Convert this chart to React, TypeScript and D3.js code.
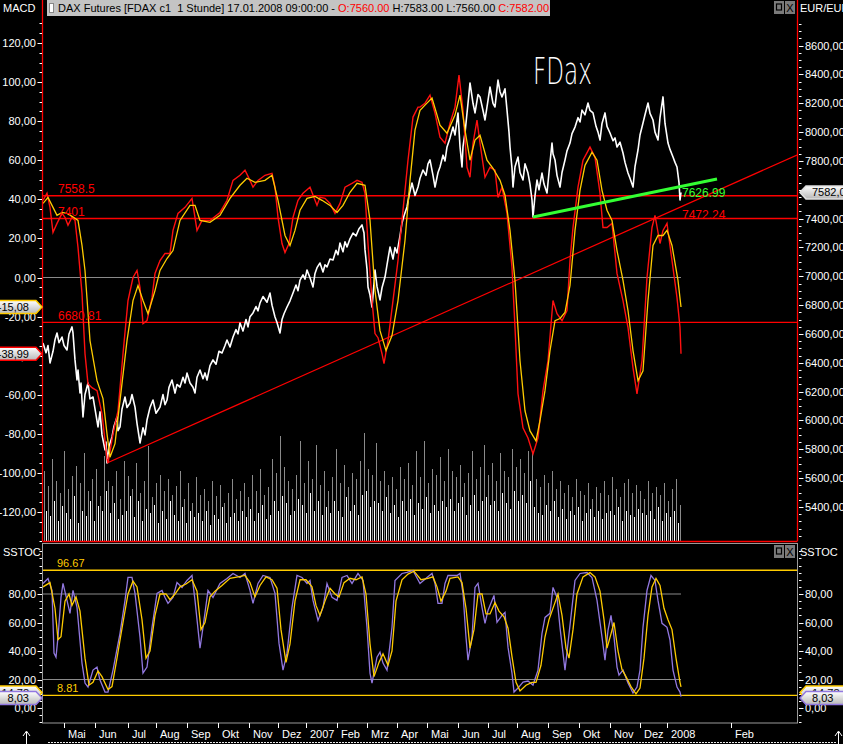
import React from 'react';
import * as d3 from 'd3';

const W = 843;
const H = 744;

// x unit: trading-hour bar index (scaled), starting mid-April 2006
const MONTH_LABELS = ['Mai','Jun','Jul','Aug','Sep','Okt','Nov','Dez','2007','Feb','Mrz','Apr','Mai','Jun','Jul','Aug','Sep','Okt','Nov','Dez','2008','Feb'];
const MONTH_BARS = [21,52,85,113,144,175,206,235,263,294,324,354,384,415,445,474,505,536,567,597,624,688];

const PRICE: [number, number][] = [
  [0,6538],[3,6470],[5,6520],[7,6399],[10,6480],[12,6560],[14,6607],[16,6540],[19,6579],[21,6520],[24,6489],[26,6600],[29,6649],[30,6607],[32,6420],[34,6281],[35,6350],[37,6191],[38,6260],[40,6024],[42,6180],[45,6260],[47,6150],[50,6163],[52,6080],[55,5955],[57,6060],[59,5900],[62,5796],[63,5850],[64,5705],[66,5820],[69,5886],[71,5960],[74,6024],[75,5930],[77,5955],[79,6080],[82,6163],[84,6090],[87,6121],[89,6180],[92,6093],[94,5980],[97,5844],[100,5950],[102,5900],[104,6003],[107,6090],[110,6142],[113,6050],[117,6093],[120,6180],[122,6110],[124,6142],[126,6230],[129,6281],[132,6190],[134,6250],[137,6232],[140,6300],[142,6260],[144,6329],[147,6260],[150,6230],[152,6191],[154,6300],[157,6350],[160,6290],[162,6330],[164,6281],[167,6380],[170,6420],[173,6390],[176,6480],[179,6468],[182,6520],[184,6558],[187,6510],[190,6579],[193,6630],[195,6600],[197,6676],[200,6620],[203,6700],[205,6649],[207,6720],[210,6746],[213,6790],[215,6760],[217,6815],[220,6860],[224,6820],[227,6884],[229,6800],[232,6718],[234,6680],[237,6607],[239,6700],[241,6740],[244,6787],[247,6830],[250,6884],[253,6940],[255,6900],[257,6974],[260,7010],[262,6980],[264,7044],[267,6990],[270,6926],[272,7020],[274,7060],[277,7092],[280,7030],[282,7080],[284,7065],[287,7120],[290,7113],[293,7180],[295,7150],[297,7231],[300,7170],[302,7240],[304,7203],[307,7260],[310,7300],[313,7280],[316,7330],[319,7356],[321,7300],[322,7183],[324,7050],[325,6926],[327,6870],[329,6787],[331,6950],[332,7044],[334,6930],[337,6836],[339,6920],[342,6995],[344,7080],[347,7203],[350,7120],[352,7200],[354,7162],[357,7280],[359,7370],[361,7420],[364,7481],[366,7560],[369,7647],[372,7560],[375,7619],[377,7680],[380,7737],[383,7700],[385,7780],[387,7807],[390,7700],[392,7619],[395,7720],[397,7758],[400,7840],[402,7800],[404,7897],[407,7960],[410,8035],[412,7980],[415,8133],[417,7900],[419,7758],[420,7900],[422,7994],[425,8200],[427,8341],[430,8200],[432,8133],[435,8260],[437,8244],[440,8150],[442,8084],[445,8220],[447,8313],[450,8200],[452,8174],[454,8300],[455,8361],[457,8280],[459,8244],[462,8300],[464,8153],[466,8000],[467,7897],[469,7750],[470,7619],[472,7760],[475,7827],[477,7720],[480,7668],[482,7780],[485,7716],[487,7640],[489,7529],[490,7411],[492,7560],[494,7668],[496,7600],[499,7716],[501,7640],[504,7578],[506,7720],[509,7924],[510,7850],[512,7807],[514,7700],[517,7619],[519,7720],[522,7807],[524,7870],[527,7924],[529,7990],[532,8035],[535,8100],[537,8070],[539,8153],[542,8120],[545,8202],[547,8150],[550,8133],[553,8040],[555,8000],[557,7945],[559,8060],[562,8133],[564,8040],[567,7994],[570,7940],[572,7960],[574,7897],[577,7930],[580,7855],[582,7790],[585,7716],[587,7680],[590,7619],[592,7760],[595,7876],[597,7980],[600,8063],[602,8120],[605,8202],[607,8130],[610,8084],[612,8000],[615,7945],[617,8100],[620,8244],[622,8060],[625,7924],[627,7880],[630,7827],[632,7790],[634,7758],[636,7650],[637,7529],[638,7582]
];

const MACD_LINE: [number, number][] = [
  [0,39.5],[4,43.1],[7,35.9],[10,23.1],[14,27.7],[19,32.8],[22,30.8],[25,26.7],[29,30.8],[32,29.2],[35,15.4],[39,-8.2],[42,-39],[45,-54.4],[49,-56.4],[54,-57.9],[59,-69.7],[64,-93],[65,-95],[70,-80],[75,-68.2],[80,-39],[85,-11.8],[90,0],[94,3.6],[97,-5.1],[100,-23.6],[104,-22.1],[109,-10.3],[112,2.1],[117,8.7],[122,12.3],[127,12.3],[130,24.1],[135,32.8],[142,35.9],[149,40.5],[154,24.1],[159,29.2],[167,29.2],[177,33.3],[184,39.5],[190,49.7],[197,52.3],[202,54.9],[207,49.7],[210,46.2],[215,49.7],[222,52.3],[229,53.3],[232,46.2],[235,30.8],[239,17.4],[242,12.8],[246,17.4],[250,30.8],[255,39.5],[260,43.1],[267,46.2],[274,36.9],[277,41],[282,40.5],[287,37.9],[292,32.8],[297,37.9],[302,46.2],[309,48.2],[314,49.7],[319,48.7],[322,43.1],[325,17.4],[329,-11.8],[332,-28.7],[335,-30.8],[339,-39],[341,-44.1],[345,-32.3],[350,-11.8],[355,8.7],[360,34.4],[365,60],[370,82.1],[375,87.2],[377,87.2],[382,89.2],[387,93.3],[392,84.1],[397,71.8],[402,68.7],[407,79],[412,87.2],[416,103.6],[420,85.6],[424,56.4],[427,51.3],[430,68.7],[434,80.5],[437,68.7],[442,51.3],[447,56.4],[452,54.9],[455,41],[459,46.2],[464,32.8],[469,5.1],[472,-25.6],[475,-59.5],[480,-76.9],[485,-82.1],[490,-90.3],[495,-82.1],[500,-57.9],[505,-42.6],[510,-11.8],[514,-18.5],[519,-22.1],[524,-16.9],[527,8.7],[530,25.6],[535,46.2],[540,60],[547,66.7],[552,61.5],[557,43.1],[560,25.6],[564,25.6],[569,27.7],[574,2.1],[580,-11.8],[585,-25.6],[590,-46.2],[594,-59.5],[599,-42.6],[604,0],[609,25.6],[612,31.8],[617,17.4],[620,24.1],[624,27.7],[629,8.7],[634,-10.3],[637,-25.6],[638,-38.99]
];

const MACD_SIGNAL: [number, number][] = [
  [0,37.9],[5,41],[9,36.9],[14,31.8],[19,33.3],[24,32.8],[29,31.3],[35,29.2],[39,16.4],[42,3.6],[47,-32.3],[54,-52.8],[60,-62],[64,-80],[67,-92],[72,-85],[77,-63],[84,-32.3],[90,-11.8],[95,-4.1],[100,-11.8],[105,-18.5],[112,-6.7],[117,3.6],[124,9.7],[130,13.8],[137,29.2],[147,36.9],[152,36.9],[157,29.2],[167,28.2],[177,31.8],[187,40.5],[197,47.2],[204,50.8],[212,48.7],[222,49.7],[229,52.3],[235,39.5],[242,21.5],[247,16.4],[252,24.1],[257,34.4],[264,40.5],[272,41.5],[279,39.5],[287,36.9],[294,33.3],[300,36.9],[307,43.6],[314,48.2],[322,47.2],[327,29.2],[332,-6.7],[337,-27.2],[343,-37.4],[349,-29.7],[355,-11.8],[362,19],[367,49.7],[372,75.4],[377,85.6],[382,88.2],[389,91.8],[397,77.9],[404,73.8],[412,83.1],[417,93.3],[422,75.4],[427,60],[432,70.3],[437,72.8],[444,60],[450,55.9],[457,49.7],[462,42.1],[467,24.1],[472,-1.5],[477,-42.6],[482,-68.2],[487,-78.5],[493,-83.6],[497,-73.3],[502,-57.9],[507,-37.4],[512,-22.1],[517,-21],[522,-17.9],[527,-4.1],[532,24.1],[537,44.6],[542,57.4],[549,64.1],[554,60],[559,44.6],[564,34.4],[569,29.2],[574,13.8],[580,-1.5],[585,-16.9],[590,-37.4],[595,-52.8],[600,-47.7],[605,-11.8],[610,16.4],[615,21.5],[620,21.5],[624,24.1],[629,16.4],[635,-1.5],[638,-15.08]
];

const STOCH_K: [number, number][] = [
  [0,87.4],[5,90.9],[9,82.5],[11,38.5],[13,35.7],[15,49.7],[18,77.6],[20,87.4],[24,75.5],[27,66.4],[30,82.5],[34,70.6],[39,31.5],[42,17.5],[45,14.7],[50,26.6],[54,28.7],[57,19.6],[62,11.2],[65,11.2],[70,26.6],[77,52.4],[82,75.5],[85,91.6],[89,91.6],[92,80.4],[97,49.7],[100,24.5],[104,28.7],[109,56.6],[114,80.4],[119,82.5],[122,77.6],[125,73.4],[130,77.6],[134,88.1],[139,84.6],[144,89.5],[149,93],[152,75.5],[157,42],[160,56.6],[165,82.5],[170,77.6],[177,87.4],[184,90.9],[190,94.4],[197,91.6],[202,94.4],[207,82.5],[210,73.4],[215,87.4],[220,93],[227,91.6],[232,80.4],[236,45.5],[240,26.6],[244,38.5],[249,70.6],[254,93],[259,91.6],[264,87.4],[267,89.5],[270,75.5],[275,61.5],[280,70.6],[284,87.4],[289,77.6],[294,75.5],[299,91.6],[304,93],[309,87.4],[315,94.4],[320,89.5],[324,56.6],[327,24.5],[329,17.5],[334,35.7],[337,39.2],[340,31.5],[344,26.6],[349,56.6],[352,89.5],[359,94.4],[364,95.1],[370,96.5],[377,87.4],[384,91.6],[389,94.4],[392,87.4],[395,73.4],[399,73.4],[402,87.4],[405,93],[414,93],[417,94.4],[420,80.4],[423,49.7],[425,33.6],[429,49.7],[432,84.6],[435,87.4],[439,70.6],[442,59.4],[445,68.5],[449,75.5],[451,79],[454,60.1],[459,65],[462,67.1],[465,42.7],[469,24.5],[471,11.2],[475,14],[480,18.2],[485,18.9],[490,16.1],[495,26.6],[499,52.4],[502,63.6],[507,66.4],[510,84.6],[514,77.6],[517,56.6],[520,38.5],[522,26.6],[525,45.5],[529,70.6],[532,89.5],[537,94.4],[544,95.1],[549,91.6],[554,75.5],[559,49.7],[562,33.6],[565,54.5],[568,65],[571,49.7],[574,28.7],[576,23.1],[580,26.6],[585,17.5],[590,10.5],[594,14.7],[597,26.6],[600,56.6],[604,82.5],[608,93],[612,89.5],[615,75.5],[619,59.4],[624,56.6],[627,47.6],[630,26.6],[634,14.7],[637,11.2],[638,8.03]
];

const STOCH_D: [number, number][] = [
  [0,85],[7,88],[12,70],[15,48],[18,50],[22,75],[26,80],[29,72],[33,78],[37,68],[42,35],[46,16],[50,18],[55,26],[59,22],[65,13],[69,15],[74,35],[80,60],[85,80],[90,89],[94,85],[99,62],[103,35],[107,40],[112,65],[117,80],[123,80],[127,76],[132,80],[137,85],[143,87],[149,90],[154,82],[158,55],[162,60],[167,78],[172,82],[179,86],[187,91],[195,92],[202,93],[207,88],[212,78],[217,86],[223,92],[229,90],[234,84],[238,55],[243,32],[247,45],[252,75],[257,90],[263,90],[269,85],[273,72],[277,65],[282,75],[287,84],[292,80],[296,78],[301,88],[307,91],[313,90],[319,92],[323,80],[327,45],[331,22],[336,32],[340,38],[345,30],[349,40],[353,75],[359,90],[365,94],[371,96],[378,90],[385,91],[390,92],[394,85],[398,75],[403,82],[407,91],[415,92],[419,88],[423,70],[427,42],[431,55],[435,80],[439,80],[443,66],[447,66],[452,74],[456,68],[461,64],[465,56],[469,36],[473,18],[477,12],[483,16],[489,18],[493,18],[498,30],[502,50],[506,62],[511,72],[515,80],[519,65],[523,42],[526,35],[530,55],[534,80],[540,92],[547,95],[552,92],[557,82],[561,62],[564,42],[568,52],[571,60],[575,40],[579,27],[583,22],[588,15],[593,10],[597,14],[601,35],[605,65],[609,85],[613,91],[617,86],[621,70],[625,62],[629,55],[633,35],[637,18],[638,14.78]
];

// volume bars, one every 2 bar units starting at bar 1
const VOLUME: number[] = [
  70,30,55,25,82,40,60,20,48,35,90,28,52,22,65,45,75,18,58,30,
  88,25,50,40,62,20,72,35,45,30,85,50,60,28,55,38,70,22,42,26,
  80,30,65,45,52,24,78,40,48,20,60,32,95,28,44,36,58,18,66,30,
  50,22,62,40,46,26,55,20,70,34,42,18,58,30,38,24,64,28,46,20,
  52,30,40,16,60,26,45,22,56,34,38,18,48,24,62,28,42,20,50,30,
  58,24,44,32,66,20,50,28,72,36,46,22,54,26,82,40,68,30,105,45,
  74,38,60,26,52,30,66,42,100,36,58,28,80,48,62,30,96,40,56,26,
  70,34,50,28,64,40,92,30,58,24,76,44,54,30,68,36,62,26,80,46,
  108,50,72,34,66,40,98,38,60,30,70,44,56,28,64,36,52,24,74,40,
  62,30,78,42,56,26,90,38,64,32,100,44,58,28,72,36,66,30,84,40,
  60,34,92,42,70,30,64,38,76,44,58,26,68,36,90,46,62,30,74,40,
  96,44,66,36,78,40,60,30,88,48,70,38,64,32,92,50,74,40,82,46,
  68,38,90,60,88,34,62,28,54,26,66,36,58,30,70,40,52,24,60,32,
  48,22,56,30,44,26,62,34,50,20,46,28,58,32,42,24,54,30,48,22,
  60,28,46,30,64,26,52,34,44,20,58,30,62,26,48,24,56,32,50,28,
  42,26,60,30,48,22,54,34,46,20,58,28,40,24,52,30,62,18,36
];

const MACD_TICKS = [120,100,80,60,40,20,0,-20,-40,-60,-80,-100,-120];
const PRICE_TICKS = [8600,8400,8200,8000,7800,7400,7200,7000,6800,6600,6400,6200,6000,5800,5600,5400];
const STOCH_TICKS = [80,60,40,20,0];

const H_LEVELS = [7558.5, 7401, 6680.81];
const H_LEVEL_LABELS = ['7558.5', '7401', '6680.81'];
const TREND_RED: [number, number][] = [[64,5705],[754,7841]];
const TREND_GREEN: [number, number][] = [[490,7411],[674,7675]];
const STOCH_LEVELS = [96.67, 8.81];

const FONT = 'Liberation Sans, Arial, sans-serif';
const loc = d3.formatLocale({ decimal: ',', thousands: '.', grouping: [3], currency: ['', ''], minus: '-' });
const fmt = loc.format('.2f');

const x = d3.scaleLinear().domain([0, 754]).range([43, 797]);
const macdY = d3.scaleLinear().domain([-120, 120]).range([512, 43]);
const priceY = d3.scaleLinear().domain([5400, 8600]).range([507, 45.6]);
const stochY = d3.scaleLinear().domain([0, 80]).range([708, 594]);
const volY = d3.scaleLinear().domain([0, 100]).range([541, 441]);

const lineOf = (yS: d3.ScaleLinear<number, number>) =>
  d3.line<[number, number]>().x(d => x(d[0])).y(d => yS(d[1]));

function LeftTag({ cy, text, stroke }: { cy: number; text: string; stroke: string }) {
  const pts = [[-3, cy - 6.5], [36, cy - 6.5], [42, cy], [36, cy + 6.5], [-3, cy + 6.5]].map(p => p.join(',')).join(' ');
  return (
    <g>
      <polygon points={pts} fill="url(#tagGrad)" stroke={stroke} strokeWidth={1.5} />
      <text x={29} y={cy + 4} textAnchor="end" fontSize={11} fontFamily={FONT} fill="#000">{text}</text>
    </g>
  );
}

function RightTag({ cy, text, stroke }: { cy: number; text: string; stroke: string }) {
  const pts = [[800, cy], [806, cy - 6.5], [846, cy - 6.5], [846, cy + 6.5], [806, cy + 6.5]].map(p => p.join(',')).join(' ');
  return (
    <g>
      <polygon points={pts} fill="url(#tagGrad)" stroke={stroke} strokeWidth={1.5} />
      <text x={812} y={cy + 4} fontSize={11} fontFamily={FONT} fill="#000">{text}</text>
    </g>
  );
}

function WinIcons({ y }: { y: number }) {
  return (
    <g>
      <rect x={774} y={y} width={10} height={13} fill="#7a7a7a" />
      <rect x={776.5} y={y + 3} width={5} height={6} fill="none" stroke="#000" strokeWidth={1.2} />
      <rect x={785} y={y} width={10} height={13} fill="#7a7a7a" />
      <text x={790} y={y + 11} textAnchor="middle" fontSize={11} fontFamily={FONT} fill="#000">X</text>
    </g>
  );
}

export default function App() {
  const macdMinor = d3.range(-135, 135, 5);
  const priceMinor = d3.range(5200, 8800, 50);
  const stochMinor = d3.range(-10, 115, 5);
  const lastBar = PRICE[PRICE.length - 1][0];
  const tagK = stochY(8.03) + 1.5;

  return (
    <svg width={W} height={H} style={{ position: 'absolute', left: 0, top: 0, display: 'block', background: '#000' }}>
      <defs>
        <linearGradient id="tagGrad" x1="0" y1="0" x2="0" y2="1">
          <stop offset="0" stopColor="#ffffff" />
          <stop offset="1" stopColor="#b8b8b8" />
        </linearGradient>
        <clipPath id="topClip"><rect x={43} y={17} width={754} height={524} /></clipPath>
        <clipPath id="botClip"><rect x={43} y={543} width={754} height={180} /></clipPath>
      </defs>
      <rect x={0} y={0} width={W} height={H} fill="#000" />

      {/* ---------- top panel ---------- */}
      <g clipPath="url(#topClip)">
        {VOLUME.map((v, i) => {
          const bx = Math.round(x(1 + 2 * i)) + 0.5;
          return <line key={i} x1={bx} x2={bx} y1={541} y2={volY(v)} stroke={i % 2 === 0 ? '#8a8a8a' : '#ffffff'} strokeWidth={1} />;
        })}
        <line x1={43} x2={x(lastBar)} y1={macdY(0)} y2={macdY(0)} stroke="#8a8a8a" strokeWidth={1} />
        {H_LEVELS.map((p, i) => (
          <line key={i} x1={43} x2={797} y1={priceY(p)} y2={priceY(p)} stroke="#ff0000" strokeWidth={1.3} />
        ))}
        <path d={lineOf(priceY)(TREND_RED) || ''} fill="none" stroke="#ff0000" strokeWidth={1.2} />
        <path d={lineOf(priceY)(PRICE) || ''} fill="none" stroke="#ffffff" strokeWidth={1.6} strokeLinejoin="round" />
        <path d={lineOf(macdY)(MACD_LINE) || ''} fill="none" stroke="#ff1010" strokeWidth={1.4} />
        <path d={lineOf(macdY)(MACD_SIGNAL) || ''} fill="none" stroke="#ffcc00" strokeWidth={1.3} />
        <path d={lineOf(priceY)(TREND_GREEN) || ''} fill="none" stroke="#33ff33" strokeWidth={3} />
      </g>
      {H_LEVEL_LABELS.map((t, i) => (
        <text key={i} x={58} y={priceY(H_LEVELS[i]) - 2.5} fontSize={12} fontFamily={FONT} fill="#ff0000">{t}</text>
      ))}
      <text x={682} y={197} fontSize={12} fontFamily={FONT} fill="#33ff33">7626.99</text>
      <text x={682} y={219} fontSize={12} fontFamily={FONT} fill="#ff0000">7472.24</text>
      <text x={533} y={84} fontSize={38} fontFamily="DejaVu Sans, sans-serif" fontWeight={200} fill="#ffffff" textLength={59} lengthAdjust="spacingAndGlyphs">FDax</text>

      {/* top panel borders */}
      <line x1={42.5} x2={42.5} y1={0} y2={541} stroke="#ff0000" strokeWidth={1.3} />
      <line x1={797.5} x2={797.5} y1={0} y2={541} stroke="#ff0000" strokeWidth={1.3} />
      <line x1={42.5} x2={797.5} y1={541.5} y2={541.5} stroke="#ff0000" strokeWidth={1.3} />

      {/* left MACD axis */}
      {macdMinor.map(v => (
        <line key={v} x1={39.5} x2={42} y1={Math.round(macdY(v)) + 0.5} y2={Math.round(macdY(v)) + 0.5} stroke="#fff" />
      ))}
      {MACD_TICKS.map(v => (
        <g key={v}>
          <line x1={37.5} x2={42} y1={Math.round(macdY(v)) + 0.5} y2={Math.round(macdY(v)) + 0.5} stroke="#fff" />
          <text x={36} y={macdY(v) + 4} textAnchor="end" fontSize={11} fontFamily={FONT} fill="#fff">{fmt(v)}</text>
        </g>
      ))}

      {/* right price axis */}
      {priceMinor.filter(v => priceY(v) > 17 && priceY(v) < 540).map(v => (
        <line key={v} x1={799} x2={801.5} y1={Math.round(priceY(v)) + 0.5} y2={Math.round(priceY(v)) + 0.5} stroke="#fff" />
      ))}
      {PRICE_TICKS.map(v => (
        <g key={v}>
          <line x1={799} x2={803.5} y1={Math.round(priceY(v)) + 0.5} y2={Math.round(priceY(v)) + 0.5} stroke="#fff" />
          <text x={805} y={priceY(v) + 4} fontSize={11} fontFamily={FONT} fill="#fff">{fmt(v)}</text>
        </g>
      ))}

      {/* header */}
      <text x={3} y={12} fontSize={11} fontFamily={FONT} fill="#fff">MACD</text>
      <rect x={47} y={0} width={503} height={16} fill="#c4c4c4" />
      <rect x={49.5} y={3.5} width={4} height={9} fill="#fff" stroke="#888" />
      <text x={58} y={12} fontSize={11} fontFamily={FONT} fill="#000" style={{ whiteSpace: 'pre' }}>
        {'DAX Futures [FDAX c1  1 Stunde] 17.01.2008 09:00:00 - '}
        <tspan fill="#ff0000">O:7560.00</tspan>
        {' H:7583.00 L:7560.00 '}
        <tspan fill="#ff0000">C:7582.00</tspan>
      </text>
      <WinIcons y={1} />
      <text x={800} y={12} fontSize={11} fontFamily={FONT} fill="#fff">EUR/EUR</text>

      {/* tags top */}
      <LeftTag cy={macdY(-15.08)} text="-15,08" stroke="#ffcc00" />
      <LeftTag cy={macdY(-38.99)} text="-38,99" stroke="#ff0000" />
      <RightTag cy={priceY(7582)} text="7582,00" stroke="#e0e0e0" />

      {/* ---------- bottom panel ---------- */}
      <g clipPath="url(#botClip)">
        {[80, 20].map(v => (
          <line key={v} x1={43} x2={x(lastBar)} y1={stochY(v)} y2={stochY(v)} stroke="#8a8a8a" strokeWidth={1.2} />
        ))}
        {STOCH_LEVELS.map(v => (
          <line key={v} x1={43} x2={797} y1={stochY(v)} y2={stochY(v)} stroke="#ffcc00" strokeWidth={1.3} />
        ))}
        <path d={lineOf(stochY)(STOCH_K) || ''} fill="none" stroke="#9278e0" strokeWidth={1.3} />
        <path d={lineOf(stochY)(STOCH_D) || ''} fill="none" stroke="#ffcc00" strokeWidth={1.3} />
      </g>
      <text x={57} y={stochY(96.67) - 3} fontSize={11} fontFamily={FONT} fill="#ffcc00">96.67</text>
      <text x={57} y={stochY(8.81) - 3} fontSize={11} fontFamily={FONT} fill="#ffcc00">8.81</text>
      <rect x={42.5} y={543.5} width={755} height={179.5} fill="none" stroke="#9a9a9a" strokeWidth={1} />
      <text x={3} y={556} fontSize={11} fontFamily={FONT} fill="#fff">SSTOC</text>
      <text x={800} y={556} fontSize={11} fontFamily={FONT} fill="#fff">SSTOC</text>
      <WinIcons y={545} />

      {stochMinor.map(v => (
        <g key={v}>
          <line x1={39.5} x2={42} y1={Math.round(stochY(v)) + 0.5} y2={Math.round(stochY(v)) + 0.5} stroke="#fff" />
          <line x1={799} x2={801.5} y1={Math.round(stochY(v)) + 0.5} y2={Math.round(stochY(v)) + 0.5} stroke="#fff" />
        </g>
      ))}
      {STOCH_TICKS.map(v => (
        <g key={v}>
          <line x1={37.5} x2={42} y1={Math.round(stochY(v)) + 0.5} y2={Math.round(stochY(v)) + 0.5} stroke="#fff" />
          <line x1={799} x2={803.5} y1={Math.round(stochY(v)) + 0.5} y2={Math.round(stochY(v)) + 0.5} stroke="#fff" />
          <text x={36} y={stochY(v) + 4} textAnchor="end" fontSize={11} fontFamily={FONT} fill="#fff">{fmt(v)}</text>
          <text x={805} y={stochY(v) + 4} fontSize={11} fontFamily={FONT} fill="#fff">{fmt(v)}</text>
        </g>
      ))}
      <LeftTag cy={tagK - 5.5} text="14,78" stroke="#ffcc00" />
      <LeftTag cy={tagK} text="8,03" stroke="#9278e0" />
      <RightTag cy={tagK - 5.5} text="14,78" stroke="#ffcc00" />
      <RightTag cy={tagK} text="8,03" stroke="#9278e0" />

      {/* x axis */}
      {MONTH_BARS.map((b, i) => (
        <g key={i}>
          <line x1={Math.round(x(b)) + 0.5} x2={Math.round(x(b)) + 0.5} y1={723} y2={728} stroke="#fff" />
          <text x={x(b) + 4} y={738} fontSize={11} fontFamily={FONT} fill="#fff">{MONTH_LABELS[i]}</text>
        </g>
      ))}
      <line x1={48} x2={836} y1={742.5} y2={742.5} stroke="#e8e8e8" strokeWidth={1} strokeDasharray="2,1" />
      <line x1={26.5} x2={26.5} y1={732} y2={744} stroke="#fff" />
      <path d="M23,736 L26.5,731 L30,736" fill="none" stroke="#fff" />
      <line x1={838.5} x2={838.5} y1={732} y2={744} stroke="#fff" />
      <path d="M835,736 L838.5,731 L842,736" fill="none" stroke="#fff" />
    </svg>
  );
}
